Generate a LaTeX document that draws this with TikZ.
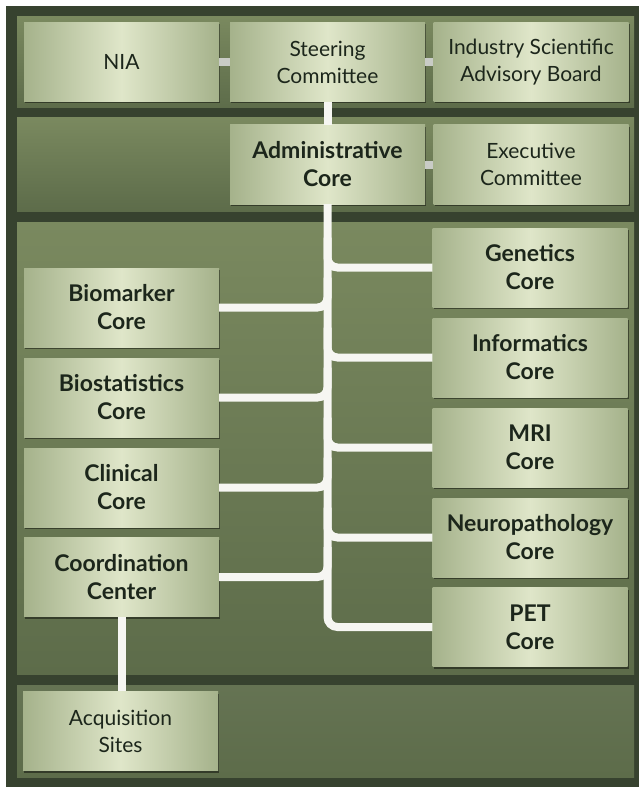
\documentclass[tikz,border=0pt]{standalone}
\usepackage{fontspec}
\setmainfont{Lato}
\usetikzlibrary{shadows}
\definecolor{framegreen}{HTML}{37422F}
\definecolor{bandtop}{HTML}{7A895F}
\definecolor{bandlow}{HTML}{5D6C4A}
\definecolor{boxedge}{HTML}{A5B28B}
\definecolor{boxlight}{HTML}{DFE6C9}
\definecolor{textdark}{HTML}{1C261B}
\definecolor{linkwhite}{HTML}{F6F6F2}
\definecolor{stubgrey}{HTML}{C9CCC6}
\tikzset{
  unit/.style={minimum width=195pt, minimum height=79pt, inner sep=2pt, align=center,
    left color=boxedge, right color=boxedge, middle color=boxlight, text=textdark,
    font=\fontsize{21}{27}\selectfont,
    drop shadow={shadow xshift=1pt, shadow yshift=-2pt, opacity=0.45, fill=black}},
  core/.style={unit, font=\fontsize{23}{28}\selectfont\bfseries},
  band/.style={top color=bandtop, bottom color=bandlow},
  link/.style={draw=linkwhite, line width=8pt, rounded corners=10pt},
  stub/.style={draw=stubgrey, line width=8pt}
}
\begin{document}
\begin{tikzpicture}[x=1pt, y=-1pt]
  \useasboundingbox (0,0) rectangle (641,789);
  \fill[framegreen] (6,6) rectangle (639,787);
  % bands
  \fill[band] (17,17) rectangle (634,108);
  \fill[band] (17,118) rectangle (634,211);
  \fill[band] (17,222) rectangle (634,674);
  \fill[band, top color=bandlow!95!white] (17,685) rectangle (634,777);

  % top rows
  \node[unit] (nia) at (121.5,62) {NIA};
  \node[unit] (steer) at (327.5,62) {Steering\\Committee};
  \node[unit] (isab) at (531,62) {Industry Scientific\\Advisory Board};
  \node[core] (admin) at (327.5,164.5) {Administrative\\Core};
  \node[unit] (exec) at (531,164.5) {Executive\\Committee};

  % left column
  \node[core] (bio) at (121.5,307.5) {Biomarker\\Core};
  \node[core] (stat) at (121.5,397.5) {Biostatistics\\Core};
  \node[core] (clin) at (121.5,487.5) {Clinical\\Core};
  \node[core] (coord) at (121.5,577) {Coordination\\Center};
  \node[unit] (acq) at (120.5,731) {Acquisition\\Sites};

  % right column
  \node[core] (gen) at (530,267.5) {Genetics\\Core};
  \node[core] (info) at (530,357.5) {Informatics\\Core};
  \node[core] (mri) at (530,447.5) {MRI\\Core};
  \node[core] (neuro) at (530,537.5) {Neuropathology\\Core};
  \node[core] (pet) at (530,627) {PET\\Core};

  % connectors
  \draw[stub] (nia.east) -- (steer.west);
  \draw[stub] (steer.east) -- (isab.west);
  \draw[stub] (admin.east) -- (exec.west);
  \draw[link] (steer.south) -- (admin.north);
  \draw[link] (admin.south) |- (pet.west);
  \foreach \b in {gen,info,mri,neuro}
    \draw[link] (admin.south |- \b.west) ++(0,-30) |- (\b.west);
  \foreach \b in {bio,stat,clin,coord}
    \draw[link] (admin.south |- \b.east) ++(0,-30) |- (\b.east);
  \draw[link] (coord.south) -- (coord.south |- acq.north);
\end{tikzpicture}
\end{document}
